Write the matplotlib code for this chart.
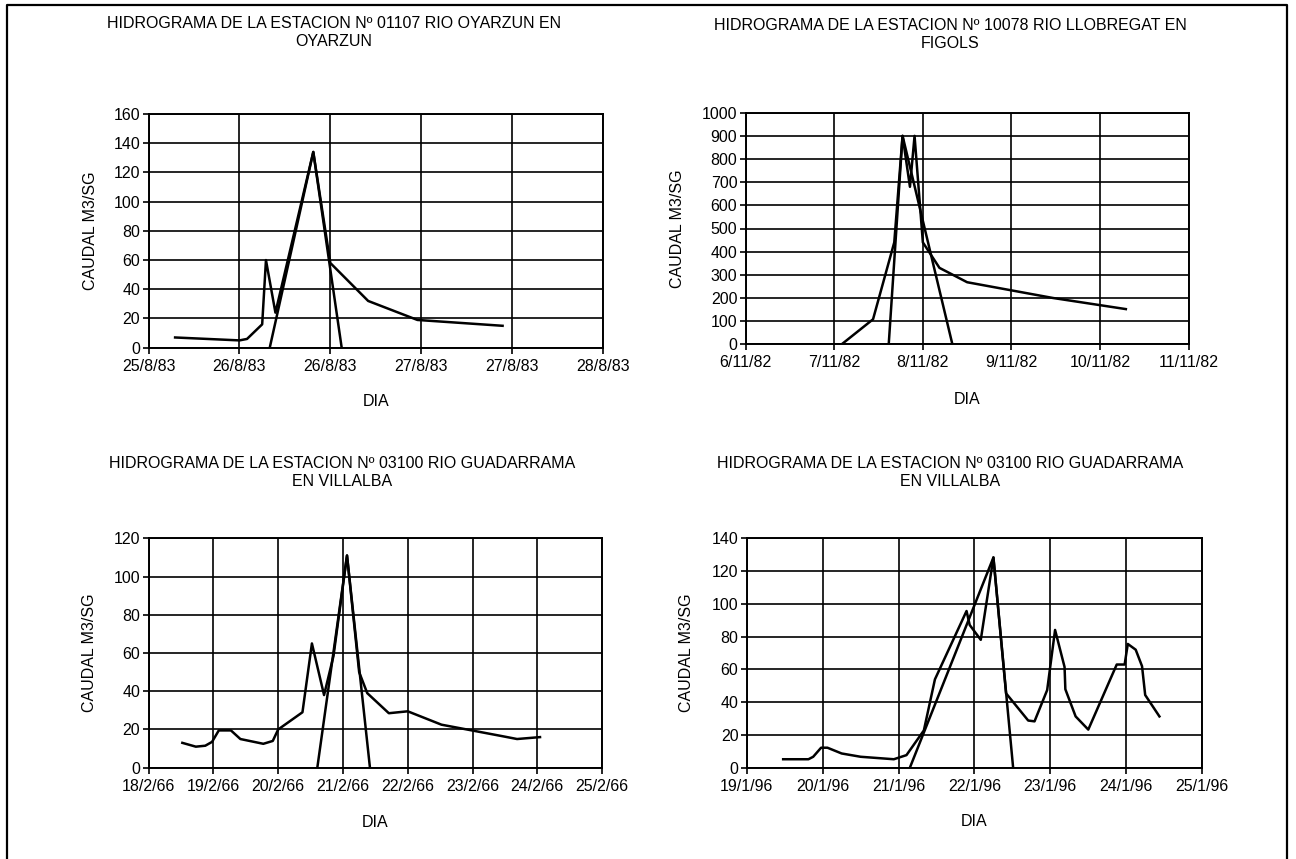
import pandas as pd
from matplotlib import pyplot as plt
from matplotlib.lines import Line2D

plt.rcParams['font.family'] = ['Liberation Sans', 'DejaVu Sans']

# estacion 01107 rio Oyarzun (agosto 1983)
oyarzun_fecha = ["1983-08-25 15:30", "1983-08-26 00:00", "1983-08-26 01:00", "1983-08-26 03:00",
                 "1983-08-26 03:30", "1983-08-26 04:45", "1983-08-26 09:45", "1983-08-26 12:00",
                 "1983-08-26 17:00", "1983-08-26 23:30", "1983-08-27 10:45"]
oyarzun_caudal = [7, 5, 6, 16, 60, 24, 134, 58, 32, 19, 15]
oyarzun_tri_fecha = ["1983-08-26 04:00", "1983-08-26 09:45", "1983-08-26 13:30"]
oyarzun_tri_caudal = [0, 134, 0]
oyarzun_ticks = ["1983-08-25 12:00", "1983-08-26 00:00", "1983-08-26 12:00",
                 "1983-08-27 00:00", "1983-08-27 12:00", "1983-08-28 00:00"]
oyarzun_labels = ["25/8/83", "26/8/83", "26/8/83", "27/8/83", "27/8/83", "28/8/83"]

# estacion 10078 rio Llobregat (noviembre 1982)
llobregat_fecha = ["1982-11-07 02:00", "1982-11-07 10:30", "1982-11-07 16:15", "1982-11-07 18:30",
                   "1982-11-07 20:30", "1982-11-07 21:45", "1982-11-08 00:00", "1982-11-08 04:30",
                   "1982-11-08 12:00", "1982-11-09 11:15", "1982-11-10 07:00"]
llobregat_caudal = [0, 108, 440, 900, 680, 900, 440, 330, 268, 200, 152]
llobregat_tri_fecha = ["1982-11-07 14:45", "1982-11-07 18:30", "1982-11-08 08:00"]
llobregat_tri_caudal = [0, 900, 0]
llobregat_ticks = ["1982-11-06", "1982-11-07", "1982-11-08", "1982-11-09", "1982-11-10", "1982-11-11"]
llobregat_labels = ["6/11/82", "7/11/82", "8/11/82", "9/11/82", "10/11/82", "11/11/82"]

# estacion 03100 rio Guadarrama (febrero 1966)
guad66_fecha = ["1966-02-18 12:30", "1966-02-18 17:30", "1966-02-18 21:00", "1966-02-18 23:30",
                "1966-02-19 02:00", "1966-02-19 06:30", "1966-02-19 10:00", "1966-02-19 18:30",
                "1966-02-19 22:00", "1966-02-20 00:00", "1966-02-20 04:00", "1966-02-20 09:00",
                "1966-02-20 12:30", "1966-02-20 17:00", "1966-02-20 20:30", "1966-02-21 01:30",
                "1966-02-21 06:00", "1966-02-21 09:00", "1966-02-21 17:00", "1966-02-22 00:00",
                "1966-02-22 12:30", "1966-02-22 20:00", "1966-02-23 03:30", "1966-02-23 11:00",
                "1966-02-23 16:30", "1966-02-24 01:00"]
guad66_caudal = [13, 11, 11.5, 13.5, 19.5, 19.5, 15, 12.5, 14, 20, 24, 29, 65, 38, 58.5, 111,
                 50, 39, 28.5, 29.5, 22.5, 20.5, 18.5, 16.5, 15, 16]
guad66_tri_fecha = ["1966-02-20 14:30", "1966-02-21 01:30", "1966-02-21 10:00"]
guad66_tri_caudal = [0, 111, 0]
guad66_ticks = ["1966-02-18", "1966-02-19", "1966-02-20", "1966-02-21",
                "1966-02-22", "1966-02-23", "1966-02-24", "1966-02-25"]
guad66_labels = ["18/2/66", "19/2/66", "20/2/66", "21/2/66", "22/2/66", "23/2/66", "24/2/66", "25/2/66"]

# estacion 03100 rio Guadarrama (enero 1996)
guad96_fecha = ["1996-01-19 11:30", "1996-01-19 19:30", "1996-01-19 21:00", "1996-01-19 23:30",
                "1996-01-20 01:30", "1996-01-20 06:00", "1996-01-20 12:00", "1996-01-20 22:30",
                "1996-01-21 02:30", "1996-01-21 08:00", "1996-01-21 11:30", "1996-01-21 21:30",
                "1996-01-21 22:30", "1996-01-22 02:00", "1996-01-22 06:00", "1996-01-22 10:00",
                "1996-01-22 17:00", "1996-01-22 19:00", "1996-01-22 23:00", "1996-01-23 01:30",
                "1996-01-23 04:30", "1996-01-23 04:45", "1996-01-23 08:00", "1996-01-23 12:00",
                "1996-01-23 21:00", "1996-01-23 23:30", "1996-01-24 00:30", "1996-01-24 03:00",
                "1996-01-24 05:00", "1996-01-24 06:00", "1996-01-24 10:30"]
guad96_caudal = [5.5, 5.5, 7, 12.5, 12.5, 9, 7, 5.5, 8, 23, 54, 95.5, 87, 78, 128, 45.5,
                 29, 28.5, 47.5, 84, 61.5, 48, 31.5, 23.5, 63, 63, 75.5, 72, 62, 44.5, 31.5]
guad96_tri_fecha = ["1996-01-21 03:30", "1996-01-22 06:00", "1996-01-22 12:15"]
guad96_tri_caudal = [0, 128, 0]
guad96_ticks = ["1996-01-19", "1996-01-20", "1996-01-21", "1996-01-22",
                "1996-01-23", "1996-01-24", "1996-01-25"]
guad96_labels = ["19/1/96", "20/1/96", "21/1/96", "22/1/96", "23/1/96", "24/1/96", "25/1/96"]

W, H = 1296, 859
FS = 11.5
fig = plt.figure(figsize=(W / 100, H / 100), dpi=100)


def px_rect(left, top, right, bottom):
    return [left / W, 1 - bottom / H, (right - left) / W, (bottom - top) / H]


def hidrograma(rect, fecha, caudal, tri_fecha, tri_caudal, ticks, labels, ymax, ystep,
               ylab_x=-0.13, xlab_y=-0.235):
    ax = fig.add_axes(rect)
    ax.plot(pd.to_datetime(fecha), caudal, color='black', lw=1.8)
    ax.plot(pd.to_datetime(tri_fecha), tri_caudal, color='black', lw=1.8)

    ticks = pd.to_datetime(ticks)
    ax.set_xticks(ticks, labels)
    ax.set_xlim(ticks[0], ticks[-1])
    ax.set_ylim(0, ymax)
    ax.set_yticks(range(0, ymax + 1, ystep))

    ax.grid(True, color='black', lw=1.2)
    for s in ax.spines.values():
        s.set_linewidth(1.4)
    ax.tick_params(direction='out', length=4, width=1.2, labelsize=FS, pad=4)
    ax.tick_params(axis='y', pad=2)

    ax.set_xlabel('DIA', fontsize=FS, va='center')
    ax.xaxis.set_label_coords(0.5, xlab_y)
    ax.set_ylabel('CAUDAL M3/SG', fontsize=FS, va='center')
    ax.yaxis.set_label_coords(ylab_x, 0.5)
    return ax


hidrograma(px_rect(148.6, 114, 602.9, 347.7), oyarzun_fecha, oyarzun_caudal,
           oyarzun_tri_fecha, oyarzun_tri_caudal, oyarzun_ticks, oyarzun_labels, 160, 20,
           ylab_x=-0.128, xlab_y=-0.231)
hidrograma(px_rect(745.7, 112.7, 1188.6, 344.3), llobregat_fecha, llobregat_caudal,
           llobregat_tri_fecha, llobregat_tri_caudal, llobregat_ticks, llobregat_labels, 1000, 100,
           ylab_x=-0.153, xlab_y=-0.240)
hidrograma(px_rect(148.6, 538.3, 602.1, 767.7), guad66_fecha, guad66_caudal,
           guad66_tri_fecha, guad66_tri_caudal, guad66_ticks, guad66_labels, 120, 20,
           ylab_x=-0.130, xlab_y=-0.240)
hidrograma(px_rect(746.8, 537.7, 1202.1, 768.3), guad96_fecha, guad96_caudal,
           guad96_tri_fecha, guad96_tri_caudal, guad96_ticks, guad96_labels, 140, 20,
           ylab_x=-0.132, xlab_y=-0.232)

# titulos de cada hidrograma
titulos = [
    (334, 33, "HIDROGRAMA DE LA ESTACION Nº 01107 RIO OYARZUN EN\nOYARZUN"),
    (950, 34, "HIDROGRAMA DE LA ESTACION Nº 10078 RIO LLOBREGAT EN\nFIGOLS"),
    (342, 472, "HIDROGRAMA DE LA ESTACION Nº 03100 RIO GUADARRAMA\nEN VILLALBA"),
    (950, 472, "HIDROGRAMA DE LA ESTACION Nº 03100 RIO GUADARRAMA\nEN VILLALBA"),
]
for x, y, txt in titulos:
    fig.text(x / W, 1 - y / H, txt, ha='center', va='center', fontsize=FS, linespacing=1.25)

# marco de la pagina
fig.add_artist(Line2D([7 / W, 7 / W, 1287 / W, 1287 / W], [0, 1 - 5 / H, 1 - 5 / H, 0],
                      transform=fig.transFigure, color='black', lw=1.6))

plt.savefig('out.png', dpi=100)
